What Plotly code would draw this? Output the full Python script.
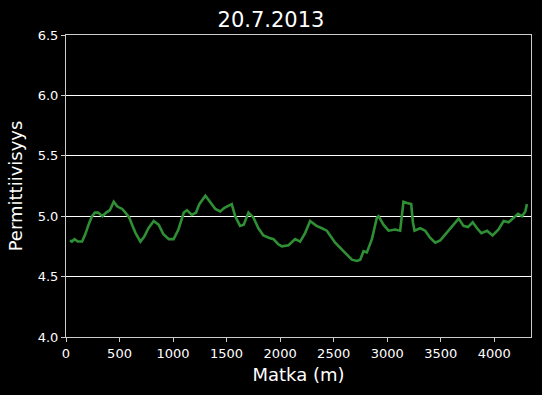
import plotly.graph_objects as go

distance_m = [37, 55, 80, 110, 150, 180, 215, 243, 270, 300, 340, 375, 410, 446, 480, 525, 555, 590,
              617, 650, 695, 730, 770, 819, 865, 910, 960, 1005, 1050, 1100, 1130, 1175, 1215, 1245,
              1302, 1345, 1395, 1440, 1480, 1548, 1580, 1626, 1660, 1704, 1750, 1797, 1844, 1900, 1938,
              1980, 2016, 2078, 2140, 2187, 2233, 2280, 2340, 2390, 2436, 2514, 2592, 2670, 2717, 2748,
              2779, 2810, 2857, 2904, 2919, 2965, 3012, 3075, 3121, 3140, 3152, 3185, 3224, 3240, 3255,
              3308, 3355, 3402, 3449, 3495, 3558, 3610, 3667, 3713, 3754, 3798, 3839, 3879, 3933, 3984,
              4040, 4087, 4134, 4181, 4222, 4259, 4290, 4305]
permittivity = [4.80, 4.79, 4.81, 4.79, 4.79, 4.85, 4.94, 5.00, 5.03, 5.03, 5.00, 5.03, 5.05, 5.12,
                5.08, 5.06, 5.03, 4.99, 4.93, 4.86, 4.79, 4.83, 4.90, 4.96, 4.93, 4.85, 4.81, 4.81,
                4.89, 5.03, 5.05, 5.01, 5.03, 5.10, 5.17, 5.12, 5.06, 5.04, 5.07, 5.10, 5.00, 4.92,
                4.93, 5.03, 4.99, 4.90, 4.84, 4.82, 4.81, 4.77, 4.75, 4.76, 4.81, 4.79, 4.86, 4.96,
                4.92, 4.90, 4.88, 4.78, 4.71, 4.64, 4.63, 4.64, 4.71, 4.70, 4.81, 4.99, 5.00, 4.93,
                4.88, 4.89, 4.88, 5.05, 5.12, 5.11, 5.10, 4.95, 4.88, 4.90, 4.88, 4.82, 4.78, 4.80,
                4.87, 4.92, 4.98, 4.92, 4.91, 4.95, 4.90, 4.86, 4.88, 4.84, 4.89, 4.96, 4.95, 4.99,
                5.02, 5.00, 5.04, 5.10]

x_ticks = [0, 500, 1000, 1500, 2000, 2500, 3000, 3500, 4000]
y_ticks = [4.0, 4.5, 5.0, 5.5, 6.0, 6.5]

fig = go.Figure()
fig.add_trace(go.Scatter(x=distance_m, y=permittivity, mode="lines",
                         line=dict(color="#2f8f34", width=2.6), showlegend=False,
                         hoverinfo="skip"))

font_family = "DejaVu Sans"
fig.update_layout(
    width=542, height=395,
    paper_bgcolor="black", plot_bgcolor="black",
    margin=dict(l=66, r=11, t=35, b=58),
    title=dict(text="20.7.2013", x=0.5, xanchor="center", y=0.949, yanchor="middle",
               font=dict(family=font_family, size=21, color="white")),
    font=dict(family=font_family, color="white"),
)
fig.update_xaxes(
    range=[0, 4343], tickvals=x_ticks, ticktext=[str(v) for v in x_ticks],
    showgrid=False, zeroline=False,
    showline=True, mirror=True, linecolor="#cccccc", linewidth=1,
    ticks="outside", ticklen=4, tickcolor="#cccccc",
    tickfont=dict(size=13, color="white"),
    title=dict(text="Matka (m)", font=dict(size=18, color="white"), standoff=8),
)
fig.update_yaxes(
    range=[4.0, 6.5], tickvals=y_ticks, ticktext=[f"{v:.1f}" for v in y_ticks],
    showgrid=True, gridcolor="white", gridwidth=1, zeroline=False,
    showline=True, mirror=True, linecolor="#cccccc", linewidth=1,
    ticks="outside", ticklen=4, tickcolor="#cccccc",
    tickfont=dict(size=13, color="white"),
    title=dict(text="Permittiivisyys", font=dict(size=18, color="white"), standoff=10),
)

fig.write_html("out.html", config={"displayModeBar": False},
               post_script="document.body.style.margin='0';document.body.style.background='black';")
